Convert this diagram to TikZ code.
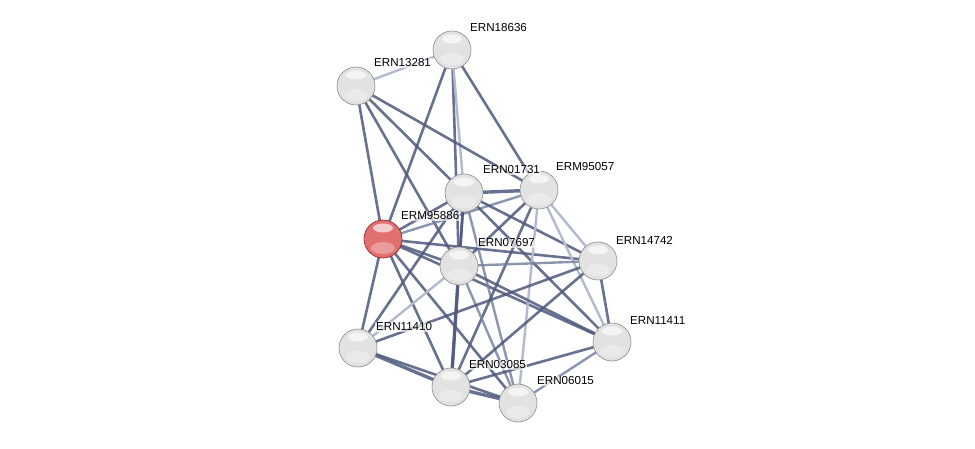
\documentclass[tikz,border=0pt]{standalone}
\usepackage{fontspec}
\setmainfont{Liberation Sans}
\definecolor{edgedark}{RGB}{78,88,124}
\definecolor{edgemid}{RGB}{120,130,160}
\definecolor{edgelight}{RGB}{178,186,206}
\definecolor{gmid}{RGB}{226,226,226}
\definecolor{gedge}{RGB}{198,198,198}
\definecolor{grim}{RGB}{140,140,140}
\definecolor{rmid}{RGB}{226,112,112}
\definecolor{redge}{RGB}{200,80,80}
\definecolor{rrim}{RGB}{135,35,35}
\pgfdeclareradialshading{sphgray}{\pgfpoint{0bp}{0bp}}{color(0bp)=(gmid); color(26bp)=(gmid); color(42bp)=(gedge); color(50bp)=(grim)}
\pgfdeclareradialshading{sphred}{\pgfpoint{0bp}{0bp}}{color(0bp)=(rmid); color(26bp)=(rmid); color(42bp)=(redge); color(50bp)=(rrim)}
\begin{document}
\begin{tikzpicture}[x=1pt,y=-1pt,
  lk/.style={draw=edgedark, line width=2.6pt, opacity=0.85},
  lkm/.style={draw=edgemid, line width=2.4pt, opacity=0.85},
  lkl/.style={draw=edgelight, line width=2.4pt},
  lkt/.style={draw=edgedark, line width=3.4pt, opacity=0.85},
  prot/.style={circle, minimum size=38pt, inner sep=0pt, shading=sphgray, draw=grim, line width=0.6pt,
    path picture={
      \fill[white, opacity=0.3] ([yshift=-9pt]path picture bounding box.center) ellipse (12pt and 6pt);
      \fill[white, opacity=0.65] ([yshift=11pt]path picture bounding box.center) ellipse (10pt and 4.5pt);
    }},
  protr/.style={prot, shading=sphred, draw=rrim},
  lab/.style={anchor=west, font=\fontsize{11.6}{12}\selectfont, inner sep=1pt, fill=white, fill opacity=0.65, text opacity=1}]
\useasboundingbox (0,0) rectangle (975,449);
% node coordinates
\coordinate (a) at (452,50);
\coordinate (b) at (356,86);
\coordinate (c) at (464,193);
\coordinate (d) at (539,190);
\coordinate (r) at (383,239);
\coordinate (e) at (459,266);
\coordinate (f) at (598,261);
\coordinate (g) at (612,342);
\coordinate (h) at (358,348);
\coordinate (i) at (451,387);
\coordinate (j) at (518,403);
% edges
\draw[lkl] (a) -- (b);
\draw[lk] (a) -- (r);
\draw[lk] (a) -- (e);
\draw[lkl] (a) -- (c);
\draw[lk] (a) -- (d);
\draw[lk] (b) -- (r);
\draw[lk] (b) -- (e);
\draw[lk] (b) -- (c);
\draw[lk] (b) -- (d);
\draw[lk] (r) -- (c);
\draw[lkm] (r) -- (d);
\draw[lk] (r) -- (e);
\draw[lk] (r) -- (f);
\draw[lk] (r) -- (g);
\draw[lk] (r) -- (h);
\draw[lk] (r) -- (i);
\draw[lk] (r) -- (j);
\draw[lkt] (c) -- (d);
\draw[lk] (c) -- (e);
\draw[lk] (c) -- (f);
\draw[lk] (c) -- (g);
\draw[lk] (c) -- (i);
\draw[lkm] (c) -- (j);
\draw[lk] (c) -- (h);
\draw[lk] (d) -- (e);
\draw[lkl] (d) -- (f);
\draw[lkl] (d) -- (g);
\draw[lk] (d) -- (i);
\draw[lkl] (d) -- (j);
\draw[lkm] (e) -- (f);
\draw[lk] (e) -- (g);
\draw[lkl] (e) -- (h);
\draw[lkt] (e) -- (i);
\draw[lkm] (e) -- (j);
\draw[lk] (f) -- (g);
\draw[lk] (f) -- (h);
\draw[lk] (f) -- (i);
\draw[lk] (g) -- (i);
\draw[lkm] (g) -- (j);
\draw[lkt] (h) -- (i);
\draw[lk] (h) -- (j);
\draw[lkt] (i) -- (j);
% proteins
\node[prot] (na) at (a) {};
\node[prot] (nb) at (b) {};
\node[prot] (nc) at (c) {};
\node[prot] (nd) at (d) {};
\node[protr] (nr) at (r) {};
\node[prot] (ne) at (e) {};
\node[prot] (nf) at (f) {};
\node[prot] (ng) at (g) {};
\node[prot] (nh) at (h) {};
\node[prot] (ni) at (i) {};
\node[prot] (nj) at (j) {};
% labels
\node[lab] (la) at (469,28) {ERN18636};
\node[lab] (lb) at (373,63) {ERN13281};
\node[lab] (lc) at (482,170) {ERN01731};
\node[lab] (ld) at (555,167) {ERM95057};
\node[lab] (lr) at (400,216) {ERM95886};
\node[lab] (le) at (477,243) {ERN07697};
\node[lab] (lf) at (615,240) {ERN14742};
\node[lab] (lg) at (629,321) {ERN11411};
\node[lab] (lh) at (375,327) {ERN11410};
\node[lab] (li) at (468,365) {ERN03085};
\node[lab] (lj) at (536,381) {ERN06015};
\end{tikzpicture}
\end{document}
